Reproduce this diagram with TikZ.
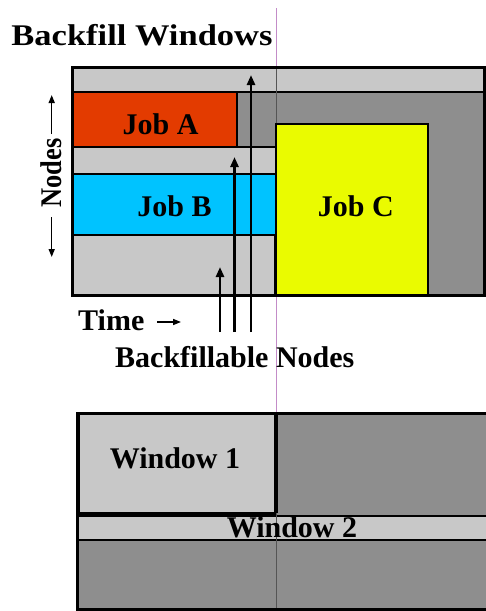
\documentclass[tikz,border=0pt]{standalone}
\usepackage{fontspec}
\usepackage{graphicx}
\setmainfont{Liberation Serif}
\usetikzlibrary{arrows.meta}
\definecolor{lg}{RGB}{200,200,200}
\definecolor{dg}{RGB}{142,142,142}
\definecolor{joba}{RGB}{227,59,0}
\definecolor{jobb}{RGB}{0,195,255}
\definecolor{jobc}{RGB}{234,251,0}
\definecolor{vline}{RGB}{195,140,200}
\definecolor{vdark}{RGB}{85,85,85}
\begin{document}
\begin{tikzpicture}[x=1pt,y=-1pt,
  box/.style={draw=black,line width=2pt},
  lbl/.style={font=\bfseries\fontsize{30}{30}\selectfont,inner sep=0pt,anchor=base},
  upar/.style={line width=2.5pt,-{Triangle[width=8pt,length=10pt]}},
  thinar/.style={line width=1.5pt,-{Triangle[width=6pt,length=8pt]}}]
\useasboundingbox (0,0) rectangle (486,611);

% vertical guide line (on white)
\coordinate (vtop) at (276,8);
\coordinate (vbot) at (276,611);
\draw[vline,line width=1pt] (vtop) -- (vbot);

% ---------- upper chart ----------
\fill[dg] (72,67) rectangle (484,295);
\draw[box,fill=lg] (72,67) rectangle (484,92);
\draw[box,fill=joba] (72,92) rectangle (237,147);
\draw[box,fill=lg] (72,147) rectangle (276,174);
\draw[box,fill=jobb] (72,174) rectangle (276,235);
\draw[box,fill=lg] (72,235) rectangle (275,295);
\draw[vdark,line width=1pt] (276,68) -- (276,124);
\draw[box,fill=jobc] (276,124) rectangle (428,295);
\draw[black,line width=3pt] (72,67) rectangle (484,295);

\node[lbl] (ja) at (160.5,134) {Job A};
\node[lbl] (jb) at (174.5,216) {Job B};
\node[lbl] (jc) at (355.8,216) {Job C};

% backfillable node arrows
\coordinate (a1s) at (220,332);
\coordinate (a1e) at (220,267);
\coordinate (a2s) at (234.5,332);
\coordinate (a2e) at (234.5,157);
\coordinate (a3s) at (251,332);
\coordinate (a3e) at (251,75);
\draw[upar] (a1s) -- (a1e);
\draw[upar] (a2s) -- (a2e);
\draw[upar] (a3s) -- (a3e);

% labels
\node[lbl] (title) at (142,45) {\scalebox{1.15}[1]{Backfill Windows}};
\node[lbl,anchor=base west] (time) at (78,330) {Time};
\coordinate (tas) at (157,322);
\coordinate (tae) at (181,322);
\draw[thinar] (tas) -- (tae);
\node[lbl,anchor=base west] (bn) at (115,367) {Backfillable Nodes};

\node[font=\bfseries\fontsize{30}{30}\selectfont,inner sep=0pt,rotate=90] (nodes) at (51,173) {\scalebox{0.88}[1]{Nodes}};
\coordinate (nu1) at (51.7,134);
\coordinate (nu2) at (51.7,95);
\coordinate (nd1) at (51.7,217);
\coordinate (nd2) at (51.7,257);
\draw[thinar] (nu1) -- (nu2);
\draw[thinar] (nd1) -- (nd2);

% ---------- lower chart ----------
\fill[dg] (77,413) rectangle (490,609);
\draw[box,line width=3pt,fill=lg] (78,413) rectangle (275,513);
\draw[box,fill=lg] (77,516) rectangle (490,540);
\draw[vdark,line width=1pt] (276,413) -- (276,609);
\draw[black,line width=3pt] (490,413) -- (77,413) -- (77,609) -- (490,609);
\draw[black,line width=3pt] (276,413) -- (276,513);
\node[lbl] (w1) at (175,468) {Window 1};
\node[lbl] (w2) at (292,537.5) {Window 2};
\end{tikzpicture}
\end{document}
